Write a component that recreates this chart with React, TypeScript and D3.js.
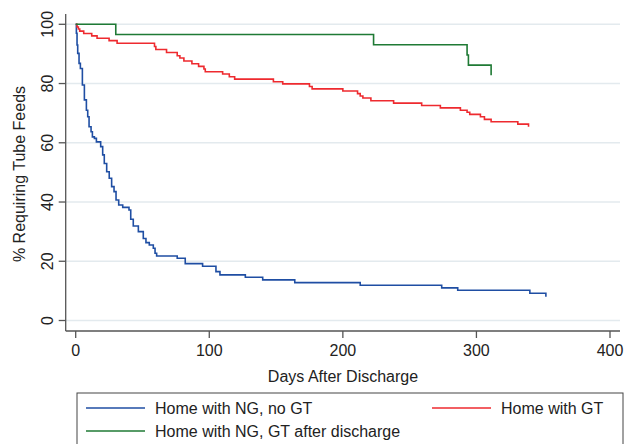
import * as d3 from "d3";

// Kaplan-Meier style step data: [day, percent]
const noGtDays = [0, 0.5, 1, 1.5, 2.5, 3.5, 5, 6.5, 8, 9, 10, 11.5, 12.5, 14, 15.5, 18.7, 20.2, 21.4, 23.2, 25.1, 26.9, 28.7, 30.2, 32.2, 35.2, 39.9, 41.2, 43.1, 46.9, 50.6, 52.6, 55.1, 58.1, 59.4, 60.6, 76, 82, 95, 105, 108, 127, 140, 164, 213, 274, 286, 340, 352];
const noGtPct = [100, 97, 93, 90.2, 86.8, 85.1, 79.5, 74.5, 71, 68.8, 65.4, 63.7, 62, 61.5, 60.3, 58.7, 55.9, 53, 50.2, 48, 45.2, 43.5, 40.7, 39, 38.2, 37.3, 34.2, 31.9, 30, 27.7, 26.3, 25.5, 24.4, 22.7, 21.8, 21, 19.2, 18.3, 16.5, 15.4, 14.6, 13.7, 12.8, 11.9, 11, 10.2, 9.2, 8];

const gtDays = [0, 1, 2, 3, 6, 12, 16, 25, 31, 59, 60, 68, 76, 78, 81, 87, 92, 96, 97, 110, 115, 119, 148, 155, 175, 177, 200, 211, 213, 215, 221, 238, 259, 273, 288, 293, 295, 303, 306, 311, 331, 339];
const gtPct = [100, 99.1, 98.4, 97.7, 96.9, 96.1, 95.3, 94.5, 93.6, 92.5, 91.5, 90.5, 89.4, 88.6, 87.6, 86.7, 85.8, 84.9, 84.0, 83.2, 82.3, 81.5, 80.6, 79.9, 79.0, 78.2, 77.5, 76.6, 75.8, 75.1, 74.2, 73.4, 72.6, 71.8, 71.0, 70.3, 69.6, 68.8, 67.9, 67.1, 66.3, 65.4];

const laterGtDays = [0, 30, 223, 293, 294, 311];
const laterGtPct = [100, 96.55, 93.1, 89.66, 86.21, 82.76];

const xTicks = [0, 100, 200, 300, 400];
const yTicks = [0, 20, 40, 60, 80, 100];

const series = [
  { name: "Home with NG, no GT", days: noGtDays, pct: noGtPct, color: "#1f4ea3" },
  { name: "Home with GT", days: gtDays, pct: gtPct, color: "#ee2a2f" },
  { name: "Home with NG, GT after discharge", days: laterGtDays, pct: laterGtPct, color: "#1f7a35" },
];

const font = "Arial, 'Liberation Sans', sans-serif";
const fs = 16;

export default function App() {
  const x = d3.scaleLinear().domain([0, 400]).range([75.7, 610]);
  const y = d3.scaleLinear().domain([0, 100]).range([320.5, 24.3]);
  const axisX = 65.7;
  const axisY = 331;
  const right = 620;

  const line = d3
    .line<[number, number]>()
    .x((d) => x(d[0]))
    .y((d) => y(d[1]))
    .curve(d3.curveStepAfter);

  return (
    <div style={{ position: "fixed", left: 0, top: 0 }}>
      <svg width={634} height={444} style={{ display: "block", background: "#fff" }} fontFamily={font}>
        {/* gridlines */}
        {yTicks.map((t) => (
          <line key={"g" + t} x1={axisX} x2={right} y1={y(t)} y2={y(t)} stroke="#e3eaee" strokeWidth={1.5} />
        ))}
        {/* y axis */}
        <line x1={axisX} x2={axisX} y1={14} y2={axisY} stroke="#555" strokeWidth={1.3} />
        {yTicks.map((t) => (
          <g key={"y" + t}>
            <line x1={axisX - 7} x2={axisX} y1={y(t)} y2={y(t)} stroke="#555" strokeWidth={1.3} />
            <text
              transform={`translate(${52.5},${y(t)}) rotate(-90)`}
              textAnchor="middle"
              fontSize={fs}
              fill="#222"
            >
              {t}
            </text>
          </g>
        ))}
        <text transform={`translate(25,174) rotate(-90)`} textAnchor="middle" fontSize={fs} fill="#222">
          % Requiring Tube Feeds
        </text>
        {/* x axis */}
        <line x1={axisX} x2={right} y1={axisY} y2={axisY} stroke="#555" strokeWidth={1.3} />
        {xTicks.map((t) => (
          <g key={"x" + t}>
            <line x1={x(t)} x2={x(t)} y1={axisY} y2={axisY + 7} stroke="#555" strokeWidth={1.3} />
            <text x={x(t)} y={356} textAnchor="middle" fontSize={fs} fill="#222">
              {t}
            </text>
          </g>
        ))}
        <text x={343} y={382} textAnchor="middle" fontSize={fs} fill="#222">
          Days After Discharge
        </text>
        {/* curves */}
        {series.map((s) => (
          <path
            key={s.name}
            d={line(s.days.map((d, i) => [d, s.pct[i]] as [number, number])) || ""}
            fill="none"
            stroke={s.color}
            strokeWidth={1.6}
          />
        ))}
        {/* legend */}
        <rect x={77} y={393} width={546} height={60} fill="#fff" stroke="#444" strokeWidth={1} />
        {[
          { s: series[0], lx: 86, ly: 408 },
          { s: series[1], lx: 432, ly: 408 },
          { s: series[2], lx: 86, ly: 431 },
        ].map(({ s, lx, ly }) => (
          <g key={"l" + s.name}>
            <line x1={lx} x2={lx + 59} y1={ly} y2={ly} stroke={s.color} strokeWidth={1.6} />
            <text x={lx + 69} y={ly + 5.5} fontSize={fs} fill="#222">
              {s.name}
            </text>
          </g>
        ))}
      </svg>
    </div>
  );
}
